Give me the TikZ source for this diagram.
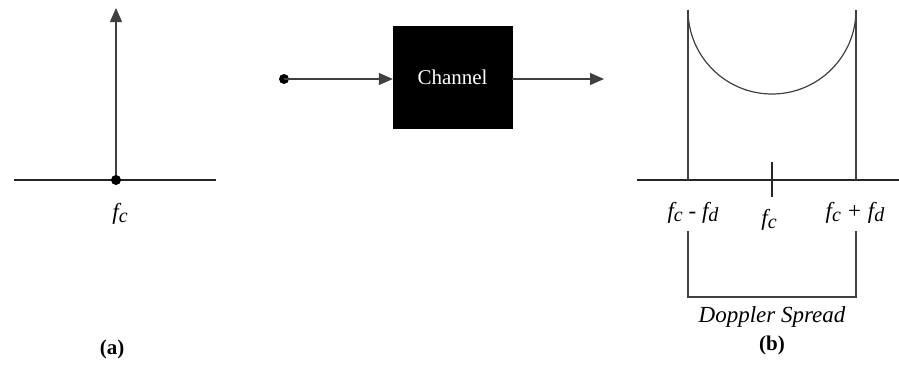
\documentclass[tikz,border=0pt]{standalone}
\usepackage{fontspec}
\setmainfont{Liberation Serif}
\usetikzlibrary{arrows.meta}
\newcommand{\subl}[1]{\raisebox{-2.5pt}{\fontsize{20}{20}\selectfont #1}}
\begin{document}
\begin{tikzpicture}[x=1pt,y=-1pt,
  axis/.style={draw=black!85,line width=1.2pt},
  wire/.style={draw=black!75,line width=1.2pt},
  sig/.style={wire,-{Triangle[length=14pt,width=12pt]}},
  lbl/.style={font=\fontsize{23}{24}\selectfont\itshape,inner sep=1pt},
  panelcap/.style={font=\fontsize{21}{22}\selectfont\bfseries,inner sep=1pt}]
\useasboundingbox (0,0) rectangle (899,364);

% (a) single spectral line at the carrier
\coordinate (a0) at (14,180);
\coordinate (a1) at (216,180);
\coordinate (fcA) at (116,180);
\coordinate (topA) at (116,8);
\draw[axis] (a0) -- (a1);
\draw[sig] (fcA) -- (topA);
\fill (fcA) circle (5);
\node[lbl] (lfcA) at (120,214) {f\subl{c}};
\node[panelcap] (capA) at (112,349) {(a)};

% channel block
\node[draw=black,fill=black,minimum width=119pt,minimum height=102pt,inner sep=0,
      text=white,font=\fontsize{21}{22}\selectfont] (ch) at (452.5,77) {Channel};
\coordinate (in) at (284,79);
\coordinate (out) at (604,79);
\fill (in) circle (5);
\draw[sig] (in) -- (ch.west |- in);
\draw[sig] (ch.east |- out) -- (out);

% (b) Doppler-spread spectrum
\coordinate (b0) at (637,180);
\coordinate (b1) at (899,180);
\coordinate (lo) at (688,180);
\coordinate (hi) at (856,180);
\coordinate (loT) at (688,10);
\coordinate (hiT) at (856,10);
\draw[axis] (b0) -- (b1);
\draw[wire] (lo) -- (loT);
\draw[wire] (hi) -- (hiT);
\draw[wire] (loT) arc[start angle=180,end angle=0,radius=84];
\coordinate (tk1) at (772,162);
\coordinate (tk2) at (772,197);
\draw[axis] (tk1) -- (tk2);
\node[lbl] (lfl) at (693,213) {f\subl{c} - f\subl{d}};
\node[lbl] (lfc) at (769,220) {f\subl{c}};
\node[lbl] (lfh) at (855,213) {f\subl{c} + f\subl{d}};
\coordinate (br1) at (688,231);
\coordinate (br2) at (688,297);
\coordinate (br3) at (856,297);
\coordinate (br4) at (856,231);
\draw[wire] (br1) -- (br2) -- (br3) -- (br4);
\node[lbl] (ds) at (772,317) {Doppler Spread};
\node[panelcap] (capB) at (772,345) {(b)};
\end{tikzpicture}
\end{document}
